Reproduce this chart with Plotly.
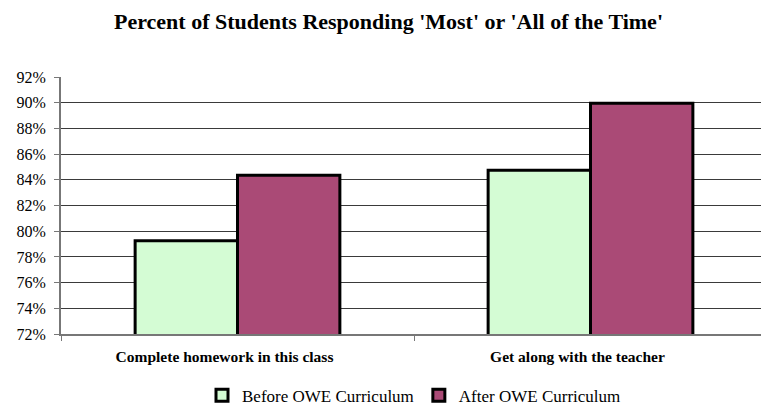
import plotly.graph_objects as go

categories = ["Complete homework in this class", "Get along with the teacher"]
before_vals = [79.25, 84.75]
after_vals = [84.35, 89.95]
series_names = ["Before OWE Curriculum", "After OWE Curriculum"]
y_ticks = [72, 74, 76, 78, 80, 82, 84, 86, 88, 90, 92]
y_ticklabels = [f"{v}%" for v in y_ticks]

font_fam = "Liberation Serif, Times New Roman, serif"

fig = go.Figure()
fig.add_trace(go.Bar(x=categories, y=before_vals, name=series_names[0],
                     marker=dict(color="#D4FCD4", line=dict(color="black", width=3))))
fig.add_trace(go.Bar(x=categories, y=after_vals, name=series_names[1],
                     marker=dict(color="#AA4A76", line=dict(color="black", width=3))))

# page body has an 8px default margin, so the figure is sized/offset to compensate
fig.update_layout(
    width=761, height=400,
    paper_bgcolor="white", plot_bgcolor="white",
    margin=dict(l=53, r=2, t=69, b=74, autoexpand=False),
    barmode="group", bargap=0.42, bargroupgap=0,
    title=dict(text="<b>Percent of Students Responding 'Most' or 'All of the Time'</b>",
               x=0.5, xref="container", xanchor="center", y=1 - 13 / 400, yanchor="middle",
               font=dict(family=font_fam, size=22, color="black")),
    font=dict(family=font_fam, color="black"),
    showlegend=True,
    legend=dict(orientation="h", x=0.5, xanchor="center", y=-0.24, yanchor="middle",
                font=dict(family=font_fam, size=17, color="black"),
                itemwidth=30, tracegroupgap=0),
    yaxis=dict(range=[72, 92], tickvals=y_ticks, ticktext=y_ticklabels,
               showgrid=True, gridcolor="#3a3a3a", gridwidth=1,
               showline=True, linecolor="#777777", linewidth=2,
               ticks="outside", ticklen=5, tickcolor="#777777",
               ticklabelstandoff=5,
               tickfont=dict(family=font_fam, size=16, color="black"),
               zeroline=False, fixedrange=True),
    xaxis=dict(showline=True, linecolor="#777777", linewidth=2,
               ticks="outside", tickson="boundaries", ticklen=5, tickcolor="#777777",
               ticklabelstandoff=7, ticklabelshift=-13,
               tickfont=dict(family=font_fam, size=15.5, color="black"),
               tickprefix="<b>", ticksuffix="</b>", showgrid=False),
)

fig.write_html("out.html")
